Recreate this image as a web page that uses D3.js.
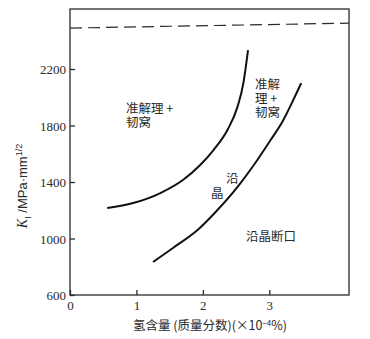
<!DOCTYPE html>
<html>
<head>
<meta charset="utf-8">
<script src="https://cdn.jsdelivr.net/npm/d3@7/dist/d3.min.js"></script>
<style>
  html, body { margin: 0; padding: 0; background: #fff; }
  svg { display: block; }
  .num { font-family: "Liberation Serif", "Times New Roman", "DejaVu Serif", serif; }
</style>
</head>
<body>
<script>
// Hydrogen content (x, 10^-4 %) vs fracture toughness K_I (MPa·mm^1/2)
const xTicks = [0, 1, 2, 3];
const yTicks = [600, 1000, 1400, 1800, 2200];

// Upper boundary: quasi-cleavage + dimple region
const boundaryUpperX = [0.56, 0.95, 1.36, 1.70, 1.96, 2.16, 2.37, 2.52, 2.61, 2.68];
const boundaryUpperY = [1216, 1251, 1322, 1414, 1520, 1626, 1768, 1930, 2100, 2334];

// Lower boundary: intergranular region
const boundaryLowerX = [1.25, 1.55, 1.92, 2.22, 2.52, 2.76, 3.02, 3.21, 3.36, 3.48];
const boundaryLowerY = [834, 933, 1060, 1202, 1364, 1515, 1697, 1838, 1980, 2100];

// Dashed reference level near the top
const dashedX = [0, 4.2];
const dashedY = [2490, 2525];

const width = 370, height = 339;
const margin = { left: 70, right: 21, top: 9, bottom: 44 };

const svg = d3.select("body").append("svg")
  .attr("width", width).attr("height", height);

const x = d3.scaleLinear().domain([0, 4.2]).range([margin.left, width - margin.right]);
const y = d3.scaleLinear().domain([600, 2625]).range([height - margin.bottom, margin.top]);

const ink = "#2a2a2a";
const cjkFont = "'Noto Sans CJK SC', sans-serif";

// Frame
svg.append("rect")
  .attr("x", x(0)).attr("y", y(2625))
  .attr("width", x(4.2) - x(0)).attr("height", y(600) - y(2625))
  .attr("fill", "none").attr("stroke", ink).attr("stroke-width", 1.3);

// Axes with inward ticks
const xAxis = d3.axisBottom(x).tickValues(xTicks).tickFormat(d3.format("d"))
  .tickSizeInner(-5).tickSizeOuter(0).tickPadding(6);
const yAxis = d3.axisLeft(y).tickValues(yTicks).tickFormat(d3.format("d"))
  .tickSizeInner(-5).tickSizeOuter(0).tickPadding(4);

const gx = svg.append("g").attr("transform", `translate(0,${y(600)})`).call(xAxis);
const gy = svg.append("g").attr("transform", `translate(${x(0)},0)`).call(yAxis);
[gx, gy].forEach(g => {
  g.attr("font-family", null).attr("font-size", 13).classed("num", true);
  g.select(".domain").remove();
  g.selectAll(".tick line").attr("stroke", ink).attr("stroke-width", 1.3);
  g.selectAll(".tick text").attr("fill", ink).classed("num", true);
});
gy.selectAll(".tick text").attr("dy", "0.35em");

// Dashed line
const line = d3.line().x(d => x(d[0])).y(d => y(d[1]));
svg.append("path")
  .datum(d3.zip(dashedX, dashedY))
  .attr("d", line)
  .attr("fill", "none").attr("stroke", ink).attr("stroke-width", 1.2)
  .attr("stroke-dasharray", "12,6");

// Boundary curves
const curve = d3.line().x(d => x(d[0])).y(d => y(d[1])).curve(d3.curveMonotoneX);
[[boundaryUpperX, boundaryUpperY], [boundaryLowerX, boundaryLowerY]].forEach(([xs, ys]) => {
  svg.append("path")
    .datum(d3.zip(xs, ys))
    .attr("d", curve)
    .attr("fill", "none").attr("stroke", "#111").attr("stroke-width", 2);
});

// Region labels (multi-line blocks as tspans)
const regionLabels = [
  { lines: ["准解理 +", "韧窝"], px: 126, py: 113, lh: 14 },
  { lines: ["准解", "理 +", "韧窝"], px: 255, py: 89, lh: 14 },
  { lines: ["沿"], px: 226, py: 183, lh: 0 },
  { lines: ["晶"], px: 211, py: 198, lh: 0 },
  { lines: ["沿晶断口"], px: 246, py: 241, lh: 0 }
];
regionLabels.forEach(d => {
  const t = svg.append("text")
    .attr("x", d.px).attr("y", d.py)
    .attr("fill", ink)
    .style("font-family", cjkFont).style("font-size", "12.5px");
  d.lines.forEach((s, i) => {
    t.append("tspan").attr("x", d.px).attr("dy", i === 0 ? 0 : d.lh).text(s);
  });
});

// X-axis title
svg.append("text")
  .attr("x", 210).attr("y", 330)
  .attr("text-anchor", "middle").attr("fill", ink)
  .style("font-family", cjkFont).style("font-size", "12.5px")
  .call(t => {
    t.append("tspan").text("氢含量 (质量分数)(×10");
    t.append("tspan").attr("dy", -4).style("font-size", "8px").text("−4");
    t.append("tspan").attr("dy", 4).text("%)");
  });

// Y-axis title
svg.append("text")
  .attr("transform", "translate(27,186) rotate(-90)")
  .attr("text-anchor", "middle").attr("fill", ink)
  .style("font-family", "'Liberation Sans', Arial, sans-serif").style("font-size", "13px")
  .call(t => {
    t.append("tspan").attr("class", "num").style("font-style", "italic").style("font-size", "14px").text("K");
    t.append("tspan").attr("dy", 4).style("font-size", "9px").text("I");
    t.append("tspan").attr("dy", -4).text(" /MPa·mm");
    t.append("tspan").attr("dy", -5).style("font-size", "9px").text("1/2");
  });
</script>
</body>
</html>
